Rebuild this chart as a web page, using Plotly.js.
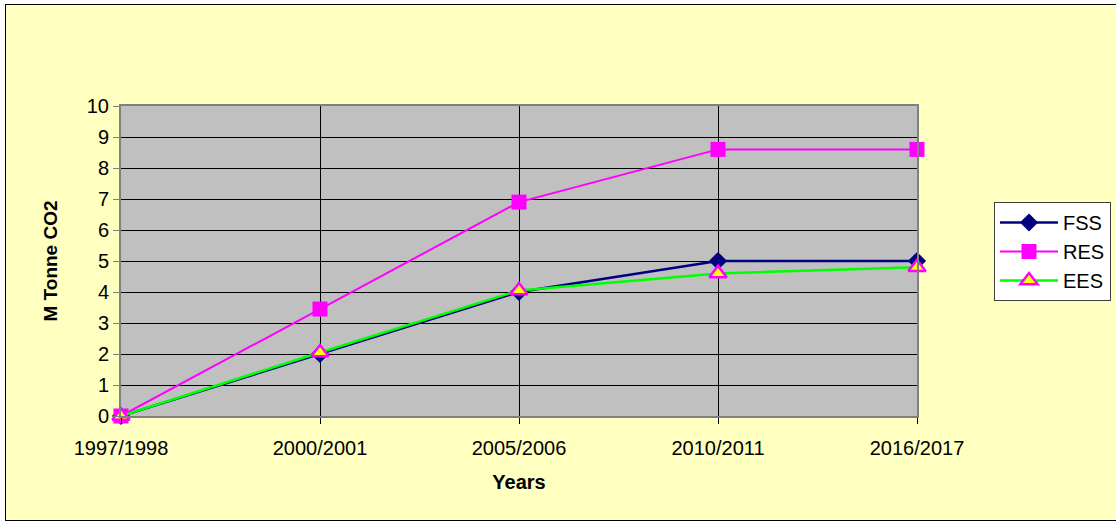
<!DOCTYPE html>
<html>
<head>
<meta charset="utf-8">
<script src="https://cdn.plot.ly/plotly-3.0.1.min.js"></script>
<style>
  html, body { margin: 0; padding: 0; background: #ffffff; }
  #frame { position: absolute; left: 5px; top: 4px; width: 1120px; height: 515px;
           background: #FFFFC0; border: 1px solid #000000; }
  #chart { position: absolute; left: 0; top: 0; width: 1116px; height: 522px; }
</style>
</head>
<body>
<div id="frame"></div>
<div id="chart"></div>
<script>
const years = ["1997/1998", "2000/2001", "2005/2006", "2010/2011", "2016/2017"];
const fss = [0, 2, 4, 5, 5];
const res = [0, 3.45, 6.9, 8.6, 8.6];
const ees = [0, 2.05, 4.05, 4.6, 4.8];
const yTicks = [0, 1, 2, 3, 4, 5, 6, 7, 8, 9, 10];

const font = "Liberation Sans, Arial, sans-serif";

const traces = [
  { x: years, y: fss, name: "FSS", type: "scatter", mode: "lines+markers",
    line: { color: "#000080", width: 2.5 },
    marker: { symbol: "diamond", size: 14, color: "#000080" }, cliponaxis: false },
  { x: years, y: res, name: "RES", type: "scatter", mode: "lines+markers",
    line: { color: "#FF00FF", width: 2 },
    marker: { symbol: "square", size: 15, color: "#FF00FF" }, cliponaxis: false },
  { x: years, y: ees, name: "EES", type: "scatter", mode: "lines+markers",
    line: { color: "#00FF00", width: 2.5 },
    marker: { symbol: "triangle-up", size: 15, color: "#FFFF00",
              line: { color: "#FF00FF", width: 2.5 } }, cliponaxis: false }
];

const layout = {
  width: 1116, height: 522,
  margin: { l: 121, r: 199, t: 106, b: 106 },
  paper_bgcolor: "rgba(0,0,0,0)",
  plot_bgcolor: "#C0C0C0",
  font: { family: font, size: 20, color: "#000000" },
  showlegend: true,
  legend: {
    xref: "container", yref: "container",
    x: 0.8907, xanchor: "left", y: 0.613, yanchor: "top",
    bgcolor: "#FFFFFF", bordercolor: "#404040", borderwidth: 1,
    font: { family: font, size: 20, color: "#000000" },
    itemwidth: 58, tracegroupgap: 0
  },
  xaxis: {
    type: "category", categoryorder: "array", categoryarray: years,
    range: [0, 4], showgrid: true, gridcolor: "#000000", gridwidth: 1,
    showline: true, linecolor: "#808080", linewidth: 2, mirror: true,
    ticks: "outside", ticklen: 6, tickcolor: "#000000", tickwidth: 1,
    ticklabelstandoff: 7,
    tickfont: { family: font, size: 20, color: "#000000" },
    title: { text: "<b>Years</b>", font: { family: font, size: 20, color: "#000000" }, standoff: 17 },
    zeroline: false
  },
  yaxis: {
    range: [0, 10], tickvals: yTicks, ticktext: yTicks.map(String),
    showgrid: true, gridcolor: "#000000", gridwidth: 1,
    showline: true, linecolor: "#808080", linewidth: 2, mirror: true,
    ticks: "outside", ticklen: 6, tickcolor: "#808080", tickwidth: 1,
    tickfont: { family: font, size: 20, color: "#000000" },
    title: { text: "<b>M Tonne CO2</b>", font: { family: font, size: 19, color: "#000000" }, standoff: 24 },
    zeroline: false
  }
};

Plotly.newPlot("chart", traces, layout, { displayModeBar: false, staticPlot: true });
</script>
</body>
</html>
